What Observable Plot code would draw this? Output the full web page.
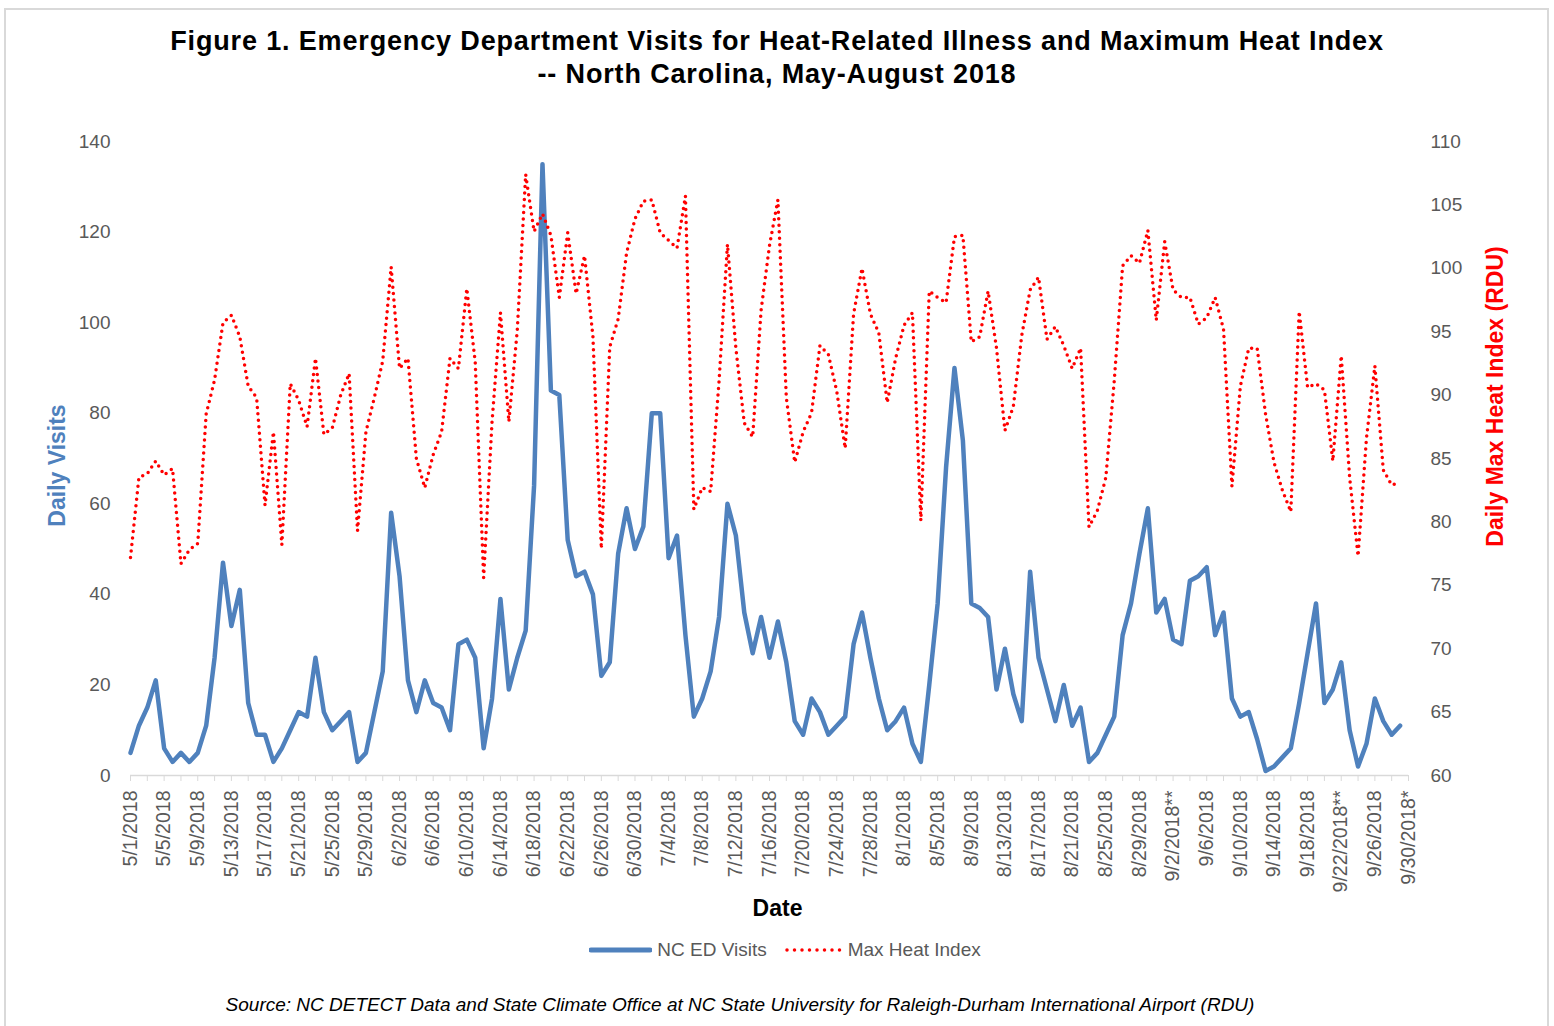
<!DOCTYPE html>
<html>
<head>
<meta charset="utf-8">
<script src="https://cdn.jsdelivr.net/npm/d3@7"></script>
<script src="https://cdn.jsdelivr.net/npm/@observablehq/plot@0.6"></script>
<style>
  body { margin: 0; background: #fff; font-family: "Liberation Sans", Arial, sans-serif; }
  #frame { position: relative; width: 1554px; height: 1026px; overflow: hidden; background: #fff; }
  #border { position: absolute; left: 4px; top: 8px; width: 1545px; height: 1060px; border: 2px solid #d9d9d9; box-sizing: border-box; }
  #title { position: absolute; top: 25px; left: 0; width: 1554px; text-align: center; font-weight: bold; font-size: 27px; letter-spacing: 0.85px; line-height: 33px; color: #000; }
  #chart { position: absolute; top: 100px; left: 0; }
  #legend { position: absolute; top: 938px; left: 0; width: 1570px; display: flex; justify-content: center; align-items: center; font-size: 19px; line-height: 24px; color: #595959; }
  #legend .item { display: flex; align-items: center; margin: 0 9px; }
  #legend svg { margin-right: 5px; }
  #caption { position: absolute; top: 993px; left: 0; width: 1480px; text-align: center; font-style: italic; font-size: 19px; line-height: 24px; color: #000; }
</style>
</head>
<body>
<div id="frame">
  <div id="border"></div>
  <div id="title">Figure 1. Emergency Department Visits for Heat-Related Illness and Maximum Heat Index<br>-- North Carolina, May-August 2018</div>
  <div id="chart"></div>
  <div id="legend"></div>
  <div id="caption">Source: NC DETECT Data and State Climate Office at NC State University for Raleigh-Durham International Airport (RDU)</div>
</div>
<script>
// ---- Data (daily, starting 5/1/2018) ----
const startLabel = "5/1/2018";
const endLabel = "9/30/2018";

const visits = [
  5, 11, 15, 21, 6, 3, 5, 3, 5, 11,
  26, 47, 33, 41, 16, 9, 9, 3, 6, 10,
  14, 13, 26, 14, 10, 12, 14, 3, 5, 14,
  23, 58, 44, 21, 14, 21, 16, 15, 10, 29,
  30, 26, 6, 17, 39, 19, 26, 32, 64, 135,
  85, 84, 52, 44, 45, 40, 22, 25, 49, 59,
  50, 55, 80, 80, 48, 53, 31, 13, 17, 23,
  35, 60, 53, 36, 27, 35, 26, 34, 25, 12,
  9, 17, 14, 9, 11, 13, 29, 36, 26, 17,
  10, 12, 15, 7, 3, 20, 38, 68, 90, 74,
  38, 37, 35, 19, 28, 18, 12, 45, 26, 19,
  12, 20, 11, 15, 3, 5, 9, 13, 31, 38,
  49, 59, 36, 39, 30, 29, 43, 44, 46, 31,
  36, 17, 13, 14, 8, 1, 2, 4, 6, 16,
  27, 38, 16, 19, 25, 10, 2, 7, 17, 12,
  9, 11
];

const heatIndex = [
  77.2, 83.5, 83.8, 84.8, 83.7, 84.2, 76.7, 77.8, 78.3, 88.5,
  91.2, 95.7, 96.3, 94.6, 90.7, 89.8, 81.3, 87.1, 78.2, 90.9,
  89.6, 87.5, 92.9, 86.9, 87.4, 90.0, 91.7, 79.3, 87.1, 89.8,
  92.7, 100.1, 92.1, 92.9, 85.0, 82.7, 85.3, 87.1, 92.9, 92.1,
  98.4, 92.6, 75.6, 87.9, 96.5, 87.9, 95.1, 107.4, 102.9, 104.3,
  102.6, 97.7, 102.8, 98.0, 101.0, 94.6, 77.9, 93.8, 96.0, 101.2,
  103.9, 105.3, 105.4, 102.8, 102.2, 101.6, 105.7, 81.0, 82.7, 82.4,
  91.1, 101.9, 93.7, 87.8, 86.7, 96.7, 101.8, 105.4, 89.8, 84.7,
  87.1, 88.6, 93.9, 93.2, 90.3, 85.8, 96.4, 100.0, 96.4, 94.9,
  89.4, 92.9, 95.5, 96.5, 80.1, 98.2, 97.7, 97.3, 102.5, 102.6,
  94.2, 94.6, 98.2, 93.7, 87.2, 89.1, 94.7, 98.3, 99.3, 94.4,
  95.4, 93.9, 92.1, 93.7, 79.6, 80.9, 83.5, 91.1, 100.2, 101.0,
  100.4, 103.0, 95.9, 102.1, 98.3, 97.7, 97.7, 95.6, 96.1, 97.7,
  95.2, 82.8, 90.7, 93.7, 93.7, 88.5, 84.7, 82.5, 80.8, 96.6,
  90.6, 90.9, 90.4, 84.8, 93.1, 83.5, 77.3, 86.6, 92.3, 84.1,
  82.9, 83.1
];

const tickLabels = [
  "5/1/2018", "5/5/2018", "5/9/2018", "5/13/2018", "5/17/2018", "5/21/2018", "5/25/2018", "5/29/2018",
  "6/2/2018", "6/6/2018", "6/10/2018", "6/14/2018", "6/18/2018", "6/22/2018", "6/26/2018", "6/30/2018",
  "7/4/2018", "7/8/2018", "7/12/2018", "7/16/2018", "7/20/2018", "7/24/2018", "7/28/2018",
  "8/1/2018", "8/5/2018", "8/9/2018", "8/13/2018", "8/17/2018", "8/21/2018", "8/25/2018", "8/29/2018",
  "9/2/2018**", "9/6/2018", "9/10/2018", "9/14/2018", "9/18/2018", "9/22/2018**", "9/26/2018", "9/30/2018*"
];

const leftTicks = [0, 20, 40, 60, 80, 100, 120, 140];
const rightTicks = [60, 65, 70, 75, 80, 85, 90, 95, 100, 105, 110];

const seriesNames = ["NC ED Visits", "Max Heat Index"];
const seriesColors = ["#4f81bd", "#ff0000"];

// ---- Helpers ----
const parseLabel = s => {
  const [m, d, y] = s.replace(/\*/g, "").split("/").map(Number);
  return new Date(Date.UTC(y, m - 1, d));
};
const start = parseLabel(startLabel);
const end = parseLabel(endLabel);
const rows = visits.map((v, i) => ({ date: d3.utcDay.offset(start, i), visits: v, heat: heatIndex[i] }));

// secondary axis mapping: 60..110 -> 0..140
const toLeft = h => (h - rightTicks[0]) * (leftTicks[leftTicks.length - 1] - leftTicks[0]) / (rightTicks[rightTicks.length - 1] - rightTicks[0]);
const fromLeft = v => rightTicks[0] + v * (rightTicks[rightTicks.length - 1] - rightTicks[0]) / (leftTicks[leftTicks.length - 1] - leftTicks[0]);

const labelMap = new Map(tickLabels.map(s => [+parseLabel(s), s]));
const labelDates = tickLabels.map(parseLabel);
const tickMarkDates = d3.utcDay.range(start, d3.utcDay.offset(end, 1), 2);

const gray = "#595959";
const font = "Liberation Sans, Arial, sans-serif";

const chart = Plot.plot({
  width: 1554,
  height: 830,
  marginLeft: 130,
  marginRight: 146,
  marginTop: 41,
  marginBottom: 155,
  style: { fontFamily: font, background: "transparent", overflow: "visible" },
  x: { type: "utc", domain: [start, end], axis: null, label: null },
  y: { domain: [leftTicks[0], leftTicks[leftTicks.length - 1]], axis: null, label: null },
  marks: [
    Plot.ruleY([0], { stroke: "#d9d9d9", strokeWidth: 1.5 }),
    Plot.axisX({ ticks: tickMarkDates, tickSize: 6, tickFormat: () => "", stroke: "#d9d9d9", label: null }),
    Plot.axisX({
      ticks: labelDates, tickSize: 0, tickPadding: 15, tickRotate: -90,
      tickFormat: d => labelMap.get(+d), fontSize: 19.5, fill: gray, label: null
    }),
    Plot.axisY({ ticks: leftTicks, tickSize: 0, tickPadding: 20, fontSize: 19, fill: gray, label: null }),
    Plot.axisY({
      anchor: "right", ticks: rightTicks.map(toLeft), tickSize: 0, tickPadding: 22,
      tickFormat: v => String(Math.round(fromLeft(v))), fontSize: 19, fill: gray, label: null
    }),
    Plot.line(rows, {
      x: "date", y: "visits", stroke: seriesColors[0], strokeWidth: 4.5,
      strokeLinejoin: "round", strokeLinecap: "round"
    }),
    Plot.line(rows, {
      x: "date", y: d => toLeft(d.heat), stroke: seriesColors[1], strokeWidth: 3.5,
      strokeDasharray: "0,6.5", strokeLinecap: "round"
    }),
    Plot.text(["Daily Visits"], {
      frameAnchor: "left", dx: -73, dy: 7, rotate: -90, textAnchor: "middle", lineAnchor: "middle",
      fill: seriesColors[0], fontSize: 23, fontWeight: "bold"
    }),
    Plot.text(["Daily Max Heat Index (RDU)"], {
      frameAnchor: "right", dx: 87, dy: -62, rotate: -90, textAnchor: "middle", lineAnchor: "middle",
      fill: seriesColors[1], fontSize: 23, fontWeight: "bold"
    }),
    Plot.text(["Date"], {
      frameAnchor: "bottom", dx: 8, dy: 133, textAnchor: "middle", lineAnchor: "middle",
      fill: "#000", fontSize: 23, fontWeight: "bold"
    })
  ]
});
document.getElementById("chart").appendChild(chart);

// ---- Legend ----
const legend = document.getElementById("legend");
seriesNames.forEach((name, i) => {
  const item = document.createElement("div");
  item.className = "item";
  const w = i === 0 ? 63 : 58;
  const sw = i === 0
    ? `<svg width="${w}" height="10"><line x1="2" y1="5" x2="${w - 2}" y2="5" stroke="${seriesColors[0]}" stroke-width="5" stroke-linecap="round"/></svg>`
    : `<svg width="${w}" height="10"><line x1="2" y1="5" x2="${w - 2}" y2="5" stroke="${seriesColors[1]}" stroke-width="3.5" stroke-dasharray="0,7.5" stroke-linecap="round"/></svg>`;
  item.innerHTML = sw + `<span>${name}</span>`;
  legend.appendChild(item);
});
</script>
</body>
</html>
